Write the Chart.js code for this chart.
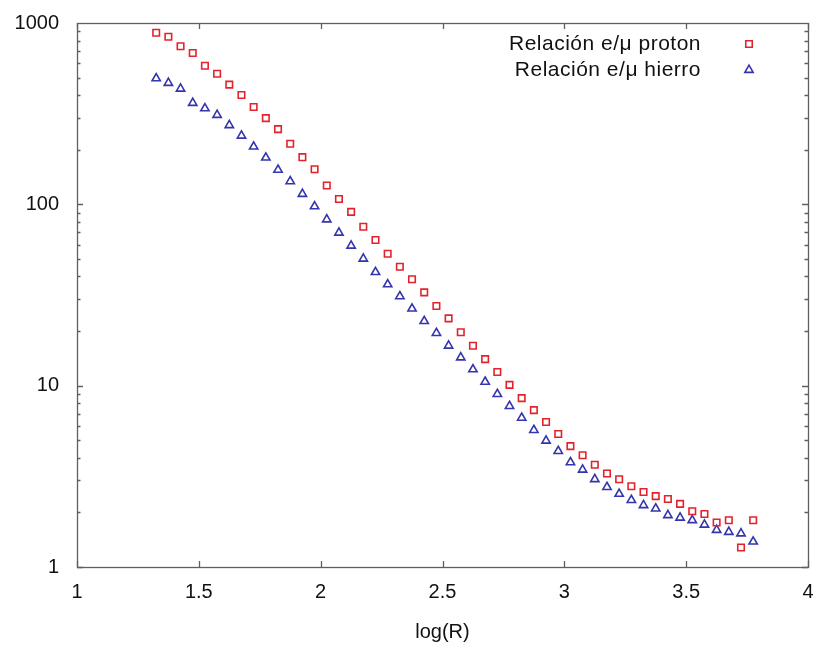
<!DOCTYPE html>
<html><head><meta charset="utf-8">
<script src="https://cdn.jsdelivr.net/npm/chart.js@4.4.1/dist/chart.umd.min.js"></script>
<style>html,body{margin:0;padding:0;background:#fff;}#wrap{width:815px;height:646px;}</style>
</head><body><div id="wrap"><canvas id="c" width="815" height="646"></canvas></div>
<script>
const logR = [1.325,1.375,1.425,1.475,1.525,1.575,1.625,1.675,1.725,1.775,
  1.825,1.875,1.925,1.975,2.025,2.075,2.125,2.175,2.225,2.275,
  2.325,2.375,2.425,2.475,2.525,2.575,2.625,2.675,2.725,2.775,
  2.825,2.875,2.925,2.975,3.025,3.075,3.125,3.175,3.225,3.275,
  3.325,3.375,3.425,3.475,3.525,3.575,3.625,3.675,3.725,3.775];
const proton = [884,840,744,683,581,525,457,401,344,299,
  260,216,182,156,127,107,90.9,75.2,63.6,53.4,
  45.3,38.6,32.7,27.5,23.5,19.7,16.6,14.0,11.9,10.1,
  8.54,7.33,6.30,5.41,4.64,4.13,3.66,3.28,3.05,2.79,
  2.59,2.46,2.37,2.23,2.03,1.96,1.76,1.81,1.28,1.81];
const hierro = [495,467,434,362,338,311,273,239,208,181,
  155,134,114,97.5,82.5,69.7,59.1,50.1,42.3,36.2,
  31.1,26.6,22.7,19.5,16.6,14.3,12.3,10.5,8.99,7.72,
  6.65,5.69,4.97,4.36,3.78,3.44,3.05,2.76,2.53,2.34,
  2.19,2.10,1.93,1.87,1.81,1.71,1.60,1.56,1.53,1.38];
const seriesLabels = ['Relación e/μ proton','Relación e/μ hierro'];
const xTicks = [1,1.5,2,2.5,3,3.5,4];
const yTicks = [1,10,100,1000];
const xTitle = 'log(R)';

const FONT = 'Liberation Sans, Arial, Helvetica, sans-serif';
const RED = '#e3232b', BLUE = '#3434ad', FRAME = '#606060';

const framePlugin = {
  id: 'frame',
  afterDatasetsDraw(chart) {
    const {ctx, chartArea: a, scales: {x, y}} = chart;
    ctx.save();
    ctx.strokeStyle = FRAME; ctx.lineWidth = 1.3;
    ctx.beginPath();
    xTicks.forEach(v => {
      const px = Math.round(x.getPixelForValue(v)) + 0.5;
      ctx.moveTo(px, a.bottom); ctx.lineTo(px, a.bottom - 6);
      ctx.moveTo(px, a.top); ctx.lineTo(px, a.top + 6);
    });
    for (let d = 1; d < 1000; d *= 10) {
      for (let m = 1; m <= 9; m++) {
        const v = d * m;
        const py = Math.round(y.getPixelForValue(v)) + 0.5;
        const len = m === 1 ? 6 : 3.5;
        ctx.moveTo(a.left, py); ctx.lineTo(a.left + len, py);
        ctx.moveTo(a.right, py); ctx.lineTo(a.right - len, py);
      }
    }
    ctx.stroke();
    ctx.strokeRect(Math.round(a.left) + 0.5, Math.round(a.top) + 0.5,
      Math.round(a.right - a.left), Math.round(a.bottom - a.top));
    // legend
    ctx.font = '21px ' + FONT;
    try { ctx.letterSpacing = '0.5px'; } catch (e) {}
    ctx.fillStyle = '#111';
    ctx.textAlign = 'right'; ctx.textBaseline = 'middle';
    chart.data.datasets.forEach((ds, i) => {
      const ly = 44 + 26 * i;
      ctx.fillStyle = '#111';
      ctx.fillText(ds.label, 701, ly);
      ctx.strokeStyle = ds.borderColor; ctx.fillStyle = 'rgba(255,255,255,0)';
      ctx.lineWidth = ds.borderWidth;
      Chart.helpers.drawPoint(ctx, {pointStyle: ds.pointStyle, radius: ds.pointRadius, borderWidth: ds.borderWidth, rotation: 0}, 749, ly);
    });
    ctx.restore();
  }
};

new Chart(document.getElementById('c'), {
  type: 'scatter',
  data: {
    datasets: [
      {label: seriesLabels[0], data: logR.map((v, i) => ({x: v, y: proton[i]})),
       pointStyle: 'rect', pointRadius: 4.6, borderWidth: 1.6, borderColor: RED, backgroundColor: 'rgba(255,255,255,0)'},
      {label: seriesLabels[1], data: logR.map((v, i) => ({x: v, y: hierro[i]})),
       pointStyle: 'triangle', pointRadius: 4.8, borderWidth: 1.6, borderColor: BLUE, backgroundColor: 'rgba(255,255,255,0)'}
    ]
  },
  options: {
    responsive: false, animation: false, devicePixelRatio: 1,
    layout: {padding: {top: 23, right: 7, left: 0, bottom: 0}},
    plugins: {legend: {display: false}, tooltip: {enabled: false}},
    scales: {
      x: {
        type: 'linear', min: 1, max: 4,
        afterBuildTicks: s => { s.ticks = xTicks.map(v => ({value: v})); },
        afterFit: s => { s.height = 79; s.paddingLeft = 0; s.paddingRight = 0; },
        ticks: {font: {family: FONT, size: 20}, color: '#111', padding: 13, maxRotation: 0,
          callback: v => String(v)},
        grid: {display: false, drawTicks: false},
        border: {display: false},
        title: {display: true, text: xTitle, font: {family: FONT, size: 20}, color: '#111', padding: {top: 0, bottom: 2}}
      },
      y: {
        type: 'logarithmic', min: 1, max: 1000,
        afterBuildTicks: s => { s.ticks = yTicks.map(v => ({value: v})); },
        afterFit: s => { s.width = 77; s.paddingTop = 0; s.paddingBottom = 0; },
        ticks: {font: {family: FONT, size: 20}, color: '#111', padding: 18,
          callback: v => String(v)},
        grid: {display: false, drawTicks: false},
        border: {display: false}
      }
    }
  },
  plugins: [framePlugin]
});
</script></body></html>
